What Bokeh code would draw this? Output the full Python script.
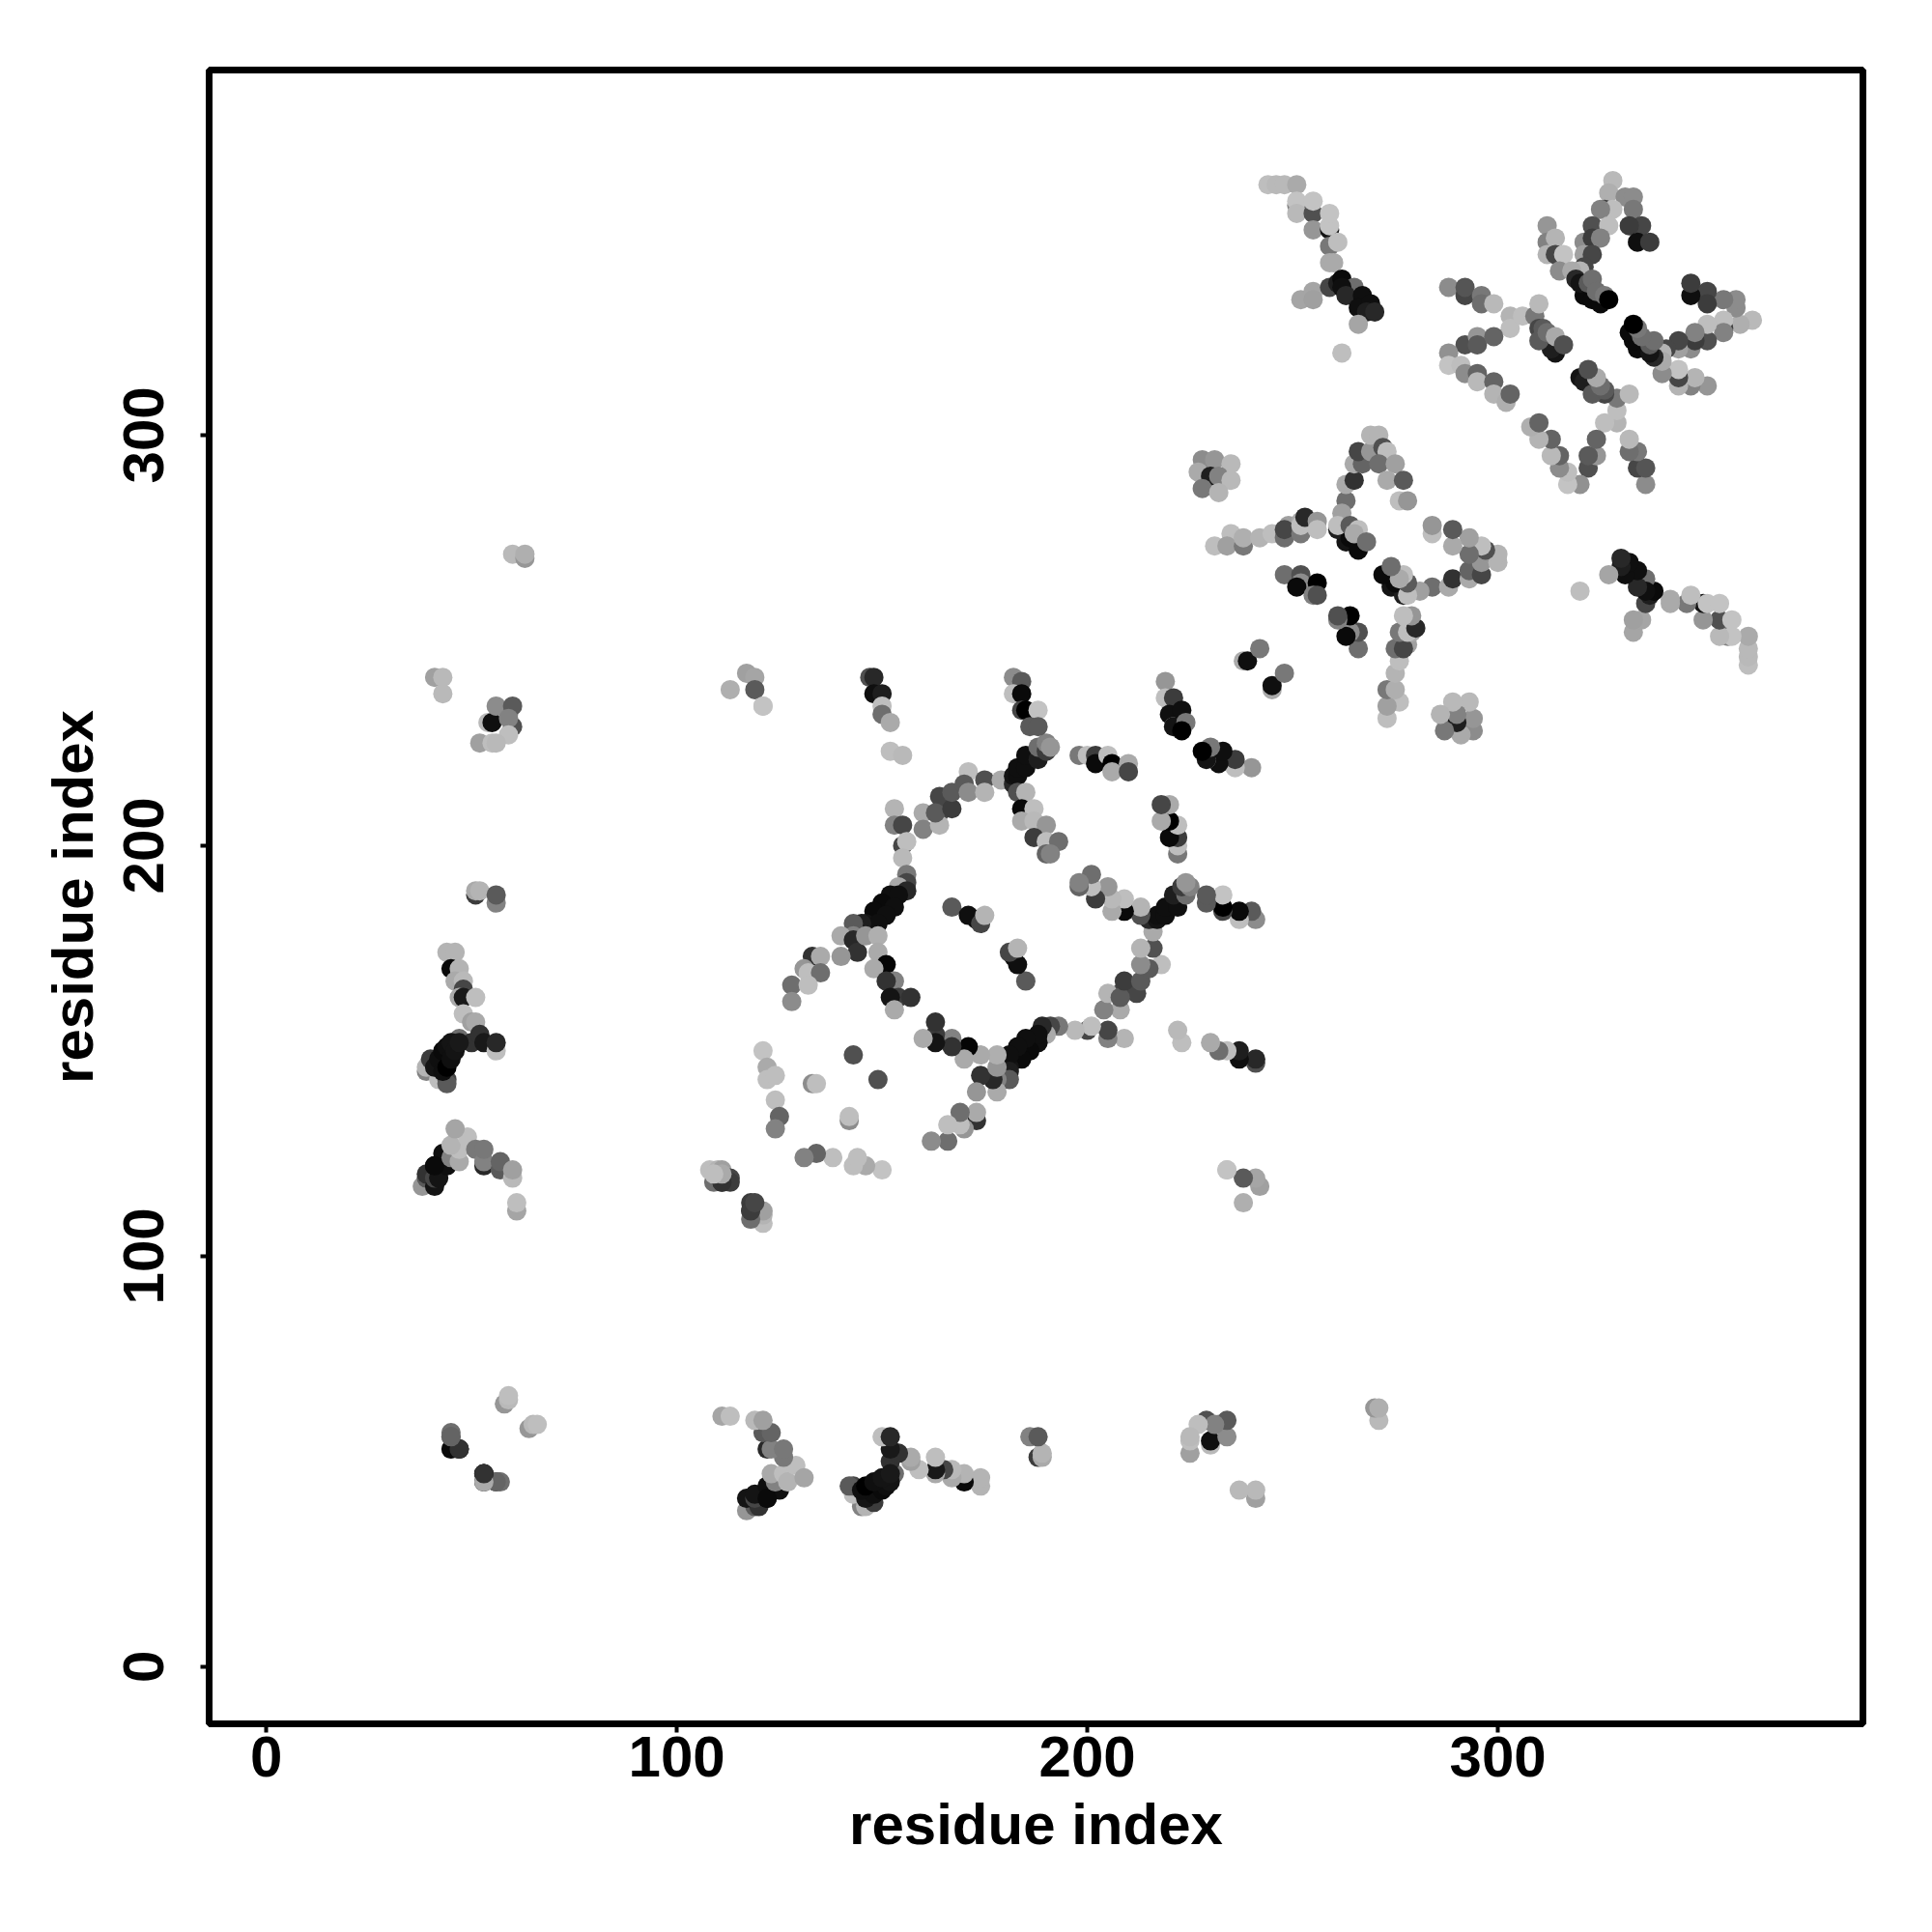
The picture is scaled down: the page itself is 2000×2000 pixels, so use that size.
from bokeh.plotting import figure
from bokeh.models import Range1d, FixedTicker
from bokeh.embed import file_html
from bokeh.resources import INLINE

# Contacts listed once (residue i < residue j); the map is symmetric.
res_i = [
 60,63,63, 41,43,43,
 54,55,59,56,60,60,59,59,52,55,56,
 51,51,52,56,56,
 44,46,45,47,46,48,48,47,48,51,48,50,51,47,50,52,53,56,56,
 39,39,40,42,44,44,41,42,43,44,45,43,44,45,46,47,
 38,39,39,41,41,41,43,42,44,41,45,47,47,45,49,46,51,53,53,53,57,57,60,60,61,61,
 45,45,47,45,47,53,53,56,58,59,59,
 108,110,111,109,111,113,118,118,120,120,121,
 117,119,113,119,121,
 121,122,122,124,124,125,124,133,134,143,
 147,148,148,150,150,150,152,152,155,
 153,153,155,155,156,155,
 160,160,164,164,164,163,167,167,171,170,171,175,175,
 179,182,182,183,183,185,185,188,188,190,190,191,
 182,184,182,184,184,185,188,186,188,
 183,185,184,187,184,187,190,187,190,193,190,191,
 198,200,202,202,205,206,206,210,210,
 219,219,221,220,221,221,223,224,223,
 156,156,154,156,152,154,150,153,148,151,146,149,145,143,
 143,140,143,144,146,149,149,140,151,148,153,151,154,157,152,153,
 133,135,131,132,135,128,132,128,
 167,173,171,174,175,
 238,239,242,
 228,231,235,227,230,232,235,228,232,
 235,231,234,238,238,242,245,248,249,248,252,252,252,253,256,256,
 263,262,261,264,266,263,262,261,264,266,265,268,
 263,265,265,267,266,269,269,271,272,273,271,275,273,277,276,278,
 248,252,252,251,256,255,256,
 244,246,248,251,251,251,251,255,255,259,255,259,259,259,261,259,260,
 252,255,255,259,261,262,265,262,263,267,266,269,268,270,266,
 262,
 288,292,292,296,296,299,303,303,306,309,310,
 292,295,295,299,288,288,291,292,295,295,299,299,302,303,
 314,313,310,310,311,312,314,316,
 328,327,331,333,333,326,328,325,323,327,321,323,325,335,332,334,337,
 321,323,321,320,312,312,314,312,314,316,315,318,
 321,323,325,319,320,322,323,324,326,327,
]
res_j = [
 271,270,271, 241,241,237,
 230,230,232,234,234,229,231,227,225,225,225,
 188,189,189,186,188,
 174,174,170,170,167,167,165,163,163,163,159,157,157,153,152,154,152,150,152,
 145,146,148,143,143,142,146,148,150,151,152,145,146,148,150,152,
 117,119,120,117,119,122,125,119,122,122,124,123,126,127,129,131,126,122,123,126,121,123,119,121,111,113,
 57,56,53,53,53,45,47,45,64,65,66,
 121,121,121,118,118,119,113,111,111,109,234,
 242,241,238,238,234,
 150,146,143,144,138,134,131,142,142,149,
 241,241,237,237,234,232,230,223,222,
 209,205,205,200,201,197,
 208,204,208,205,212,208,209,213,218,215,213,216,213,
 216,215,217,217,219,219,222,221,224,223,225,224,
 241,240,237,237,233,233,233,229,229,
 213,213,209,209,206,206,205,202,201,201,198,198,
 222,222,222,220,222,220,218,220,218,
 240,236,236,232,229,229,233,230,228,
 193,191,190,189,188,188,186,185,184,183,181,181,181,181,
 178,178,177,174,178,178,174,173,171,170,167,167,163,163,163,160,
 173,173,170,169,169,166,166,162,
 185,182,183,181,183,
 245,245,248,
 294,294,293,291,290,290,289,287,286,
 276,273,273,273,275,275,276,275,278,277,279,276,278,280,279,277,
 274,279,277,275,272,284,281,278,278,277,276,274,
 288,289,293,293,296,296,300,300,297,296,293,293,289,289,284,284,
 266,266,264,263,264,261,261,
 361,361,361,361,356,357,354,354,350,350,357,351,354,346,347,342,342,
 333,335,333,336,337,338,336,336,334,334,331,332,330,330,327,
 320,
 336,334,336,334,332,332,329,326,329,329,332,
 322,324,322,324,320,317,317,315,315,313,313,310,308,310,
 320,321,326,323,326,325,324,322,
 362,359,358,358,355,355,355,355,351,351,347,348,348,351,351,347,347,
 344,344,341,340,351,347,348,344,344,344,340,340,
 334,333,332,338,337,337,338,335,334,333,
]
shade = [
 185,150,175, 160,185,185,
 185,15,130,140,90,80,130,190,160,190,185,
 60,170,180,130,90,
 180,180,10,180,170,185,70,170,25,190,190,160,170,110,50,50,25,190,40,
 130,180,60,190,70,90,20,15,10,15,20,15,0,15,20,25,
 150,90,50,20,70,10,15,20,15,10,130,170,190,180,190,165,120,40,130,120,90,100,185,160,165,190,
 110,100,10,170,50,10,50,100,150,185,190,
 190,180,160,110,60,70,60,50,170,190,190,
 160,165,175,90,195,
 195,170,190,190,190,100,130,140,190,80,
 80,40,15,30,190,110,170,190,185,
 180,130,70,70,190,185,
 170,130,70,180,70,90,60,90,190,90,140,80,180,
 170,40,20,15,15,15,15,30,110,60,130,150,
 140,90,190,10,70,0,195,90,90,
 80,180,10,190,170,185,150,60,190,110,100,130,
 120,190,60,10,190,0,170,170,70,
 150,190,60,15,170,20,15,120,0,
 120,70,170,40,15,15,10,15,10,15,20,15,30,90,
 130,170,40,50,150,175,170,150,5,170,130,50,60,50,20,170,
 50,170,150,190,110,110,190,140,
 90,10,15,70,180,
 170,15,120,
 140,150,185,170,30,130,185,120,180,
 190,190,160,120,175,180,190,110,160,70,170,120,190,40,150,190,
 20,60,30,10,10,110,160,190,90,190,170,110,
 170,50,170,100,70,150,180,180,80,190,110,160,170,90,190,150,
 110,80,140,10,0,130,80,
 190,185,185,170,130,195,185,80,150,20,195,195,195,120,190,170,170,
 165,165,160,70,30,10,110,15,40,15,15,15,30,40,165,
 190,
 140,70,85,120,110,185,180,190,190,120,185,
 80,150,90,100,145,195,190,140,100,185,100,180,175,100,
 20,30,70,90,90,110,170,80,
 185,175,140,140,120,60,190,130,80,190,140,60,130,70,60,15,60,
 160,70,70,180,150,130,180,180,70,195,140,170,
 10,10,10,40,20,90,110,110,120,0,
]
assert len(res_i) == len(res_j) == len(shade), (len(res_i), len(res_j), len(shade))

x_ticks = [0, 100, 200, 300]
y_ticks = [0, 100, 200, 300]
axis_title = "residue index"

xs = res_i + res_j
ys = res_j + res_i
colours = ["#%02x%02x%02x" % (s, s, s) for s in shade + shade]

p = figure(width=1984, height=1984, output_backend="svg", toolbar_location=None,
           x_range=Range1d(-13.92, 388.92), y_range=Range1d(-13.92, 388.92),
           min_border_left=216, min_border_right=56, min_border_top=72, min_border_bottom=200,
           x_axis_label=axis_title, y_axis_label=axis_title)
p.grid.visible = False
p.outline_line_color = "black"
p.outline_line_width = 7
p.background_fill_color = "white"
p.border_fill_color = "white"

for ax, ticks in ((p.xaxis[0], x_ticks), (p.yaxis[0], y_ticks)):
    ax.ticker = FixedTicker(ticks=ticks)
    ax.axis_line_color = None
    ax.major_tick_line_color = "black"
    ax.major_tick_line_width = 4
    ax.major_tick_in = 0
    ax.major_tick_out = 9
    ax.minor_tick_line_color = None
    ax.major_label_text_font = "Liberation Sans"
    ax.major_label_text_font_style = "bold"
    ax.major_label_text_font_size = "60px"
    ax.major_label_text_color = "black"
    ax.axis_label_text_font = "Liberation Sans"
    ax.axis_label_text_font_style = "bold"
    ax.axis_label_text_font_size = "60px"
    ax.axis_label_text_color = "black"
p.yaxis[0].major_label_orientation = "vertical"
p.xaxis[0].major_label_standoff = 4
p.yaxis[0].major_label_standoff = 38
p.xaxis[0].axis_label_standoff = 13
p.yaxis[0].axis_label_standoff = 17

p.scatter(xs, ys, size=20, marker="circle", fill_color=colours, line_color=None)

open("out.html", "w").write(file_html(p, INLINE))
